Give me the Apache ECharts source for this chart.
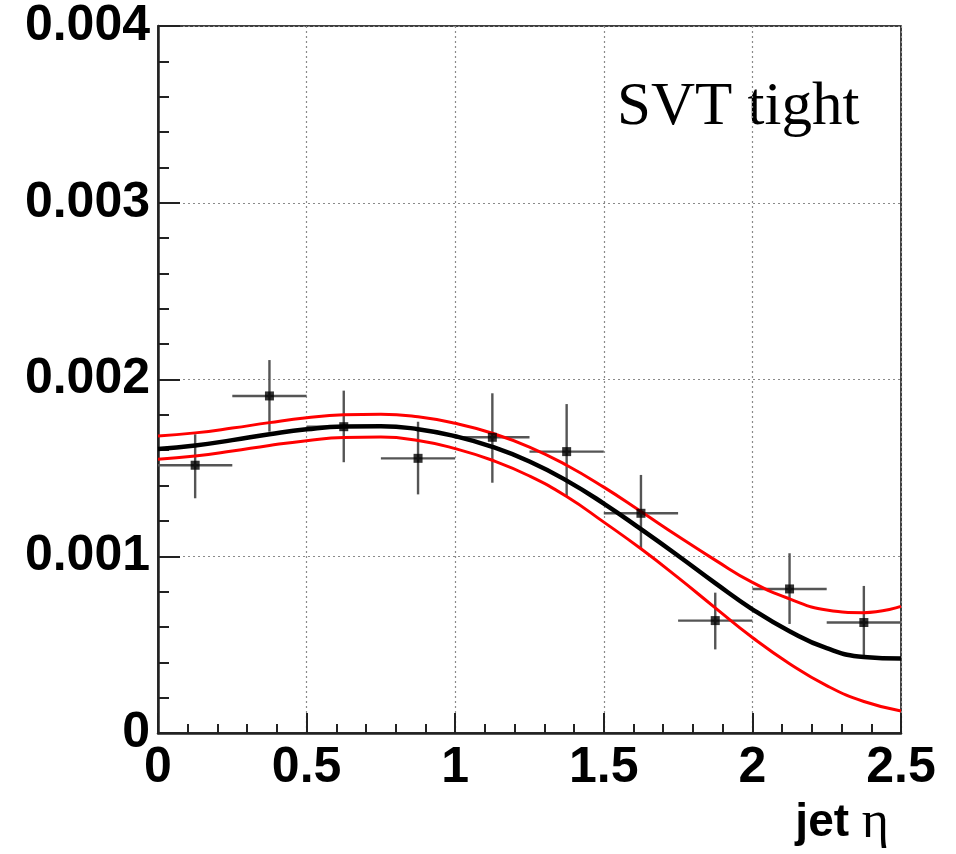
<!DOCTYPE html>
<html>
<head>
<meta charset="utf-8">
<script src="https://cdn.jsdelivr.net/npm/echarts@6/dist/echarts.min.js"></script>
<style>html,body{margin:0;padding:0;background:#fff;}#c{width:956px;height:854px;}</style>
</head>
<body>
<div id="c"></div>
<script>
// Data points (bin centers, value, error bar low/high, bin half-width)
const binCenters = [0.125, 0.375, 0.625, 0.875, 1.125, 1.375, 1.625, 1.875, 2.125, 2.375];
const pointValues = [0.001515, 0.001907, 0.001733, 0.001554, 0.001673, 0.001592, 0.001243, 0.000636, 0.000815, 0.000625];
const pointLow  = [0.001328, 0.001705, 0.001532, 0.001350, 0.001416, 0.001341, 0.001045, 0.000473, 0.000617, 0.000428];
const pointHigh = [0.001690, 0.002110, 0.001937, 0.001761, 0.001922, 0.001861, 0.001460, 0.000794, 0.001017, 0.000832];
const binHalfWidth = 0.125;

// Fit curve and error band
const curveX = [0, 0.125, 0.25, 0.375, 0.5, 0.625, 0.75, 0.875, 1.0, 1.125, 1.25, 1.375, 1.5, 1.625, 1.75, 1.875, 2.0, 2.125, 2.25, 2.375, 2.5];
const fitCentral = [0.001607, 0.001627, 0.001657, 0.001690, 0.001718, 0.001734, 0.001736, 0.001719, 0.001679, 0.001619, 0.001536, 0.001428, 0.001298, 0.001153, 0.001003, 0.000848, 0.000700, 0.000576, 0.000480, 0.000430, 0.000421];
const fitUpper   = [0.001680, 0.001698, 0.001725, 0.001756, 0.001783, 0.001800, 0.001804, 0.001789, 0.001752, 0.001696, 0.001618, 0.001515, 0.001391, 0.001253, 0.001113, 0.000978, 0.000852, 0.000759, 0.000696, 0.000681, 0.000716];
const fitLower   = [0.001549, 0.001567, 0.001595, 0.001627, 0.001654, 0.001672, 0.001674, 0.001655, 0.001609, 0.001543, 0.001454, 0.001338, 0.001193, 0.001042, 0.000879, 0.000708, 0.000540, 0.000392, 0.000268, 0.000178, 0.000125];

const yTickLabels = {0: '0', 0.001: '0.001', 0.002: '0.002', 0.003: '0.003', 0.004: '0.004'};

const zip = (xs, ys) => xs.map((x, i) => [x, ys[i]]);

const chart = echarts.init(document.getElementById('c'));
const labelFont = {fontFamily: 'Liberation Sans', fontWeight: 'bold', fontSize: 50, color: '#000'};
const gridLine = {show: true, lineStyle: {type: [2, 3], color: '#8a8a8a', width: 1.2}};

chart.setOption({
  animation: false,
  grid: {left: 158, right: 55, top: 26, bottom: 121, show: true, borderColor: '#000', borderWidth: 1.5, backgroundColor: 'transparent'},
  xAxis: {
    type: 'value', min: 0, max: 2.5, interval: 0.5,
    axisLine: {show: true, onZero: false, lineStyle: {color: '#222', width: 2.5}},
    axisTick: {show: true, inside: true, length: 20, lineStyle: {color: '#222', width: 2}},
    minorTick: {show: true, splitNumber: 5, length: 9, lineStyle: {color: '#222', width: 2}},
    splitLine: gridLine,
    axisLabel: Object.assign({margin: 10, formatter: v => String(v)}, labelFont),
    name: '{a|jet }{b|η}',
    nameLocation: 'end',
    nameGap: -12,
    nameTextStyle: {
      align: 'right', verticalAlign: 'top', padding: [64, 0, 0, 0],
      rich: {
        a: {fontFamily: 'Liberation Sans', fontWeight: 'bold', fontSize: 46, color: '#000'},
        b: {fontFamily: 'Liberation Serif', fontSize: 52, color: '#000'}
      }
    }
  },
  yAxis: {
    type: 'value', min: 0, max: 0.004, interval: 0.001,
    axisLine: {show: true, onZero: false, lineStyle: {color: '#222', width: 2.5}},
    axisTick: {show: true, inside: true, length: 22, lineStyle: {color: '#222', width: 2}},
    minorTick: {show: true, splitNumber: 5, length: 11, lineStyle: {color: '#222', width: 2}},
    splitLine: gridLine,
    axisLabel: Object.assign({margin: 8, formatter: v => {
      const k = Math.round(v * 1000) / 1000;
      return yTickLabels[k] !== undefined ? yTickLabels[k] : String(k);
    }}, labelFont)
  },
  graphic: [{
    type: 'text', left: 617, top: 77,
    style: {text: 'SVT tight', font: '61px "Liberation Serif"', fill: '#000'}
  }],
  series: [
    {
      type: 'custom',
      name: 'errors',
      data: binCenters.map((x, i) => [x, pointValues[i], pointLow[i], pointHigh[i]]),
      renderItem: function (params, api) {
        const x = api.value(0), y = api.value(1);
        const l = api.coord([x - binHalfWidth, y]);
        const r = api.coord([x + binHalfWidth, y]);
        const lo = api.coord([x, api.value(2)]);
        const hi = api.coord([x, api.value(3)]);
        const st = {stroke: '#555', lineWidth: 2.4};
        return {
          type: 'group',
          children: [
            {type: 'line', shape: {x1: l[0], y1: l[1], x2: r[0], y2: r[1]}, style: st},
            {type: 'line', shape: {x1: lo[0], y1: lo[1], x2: hi[0], y2: hi[1]}, style: st}
          ]
        };
      },
      z: 2
    },
    {
      type: 'line', name: 'upper', data: zip(curveX, fitUpper), smooth: 0.5,
      showSymbol: false, lineStyle: {color: '#ff0000', width: 3}, z: 3
    },
    {
      type: 'line', name: 'lower', data: zip(curveX, fitLower), smooth: 0.5,
      showSymbol: false, lineStyle: {color: '#ff0000', width: 3}, z: 3
    },
    {
      type: 'line', name: 'fit', data: zip(curveX, fitCentral), smooth: 0.5,
      showSymbol: false, lineStyle: {color: '#000', width: 4.5}, z: 4
    },
    {
      type: 'scatter', name: 'data', data: zip(binCenters, pointValues),
      symbol: 'rect', symbolSize: 9, itemStyle: {color: '#000'}, z: 5
    }
  ]
});
</script>
</body>
</html>
